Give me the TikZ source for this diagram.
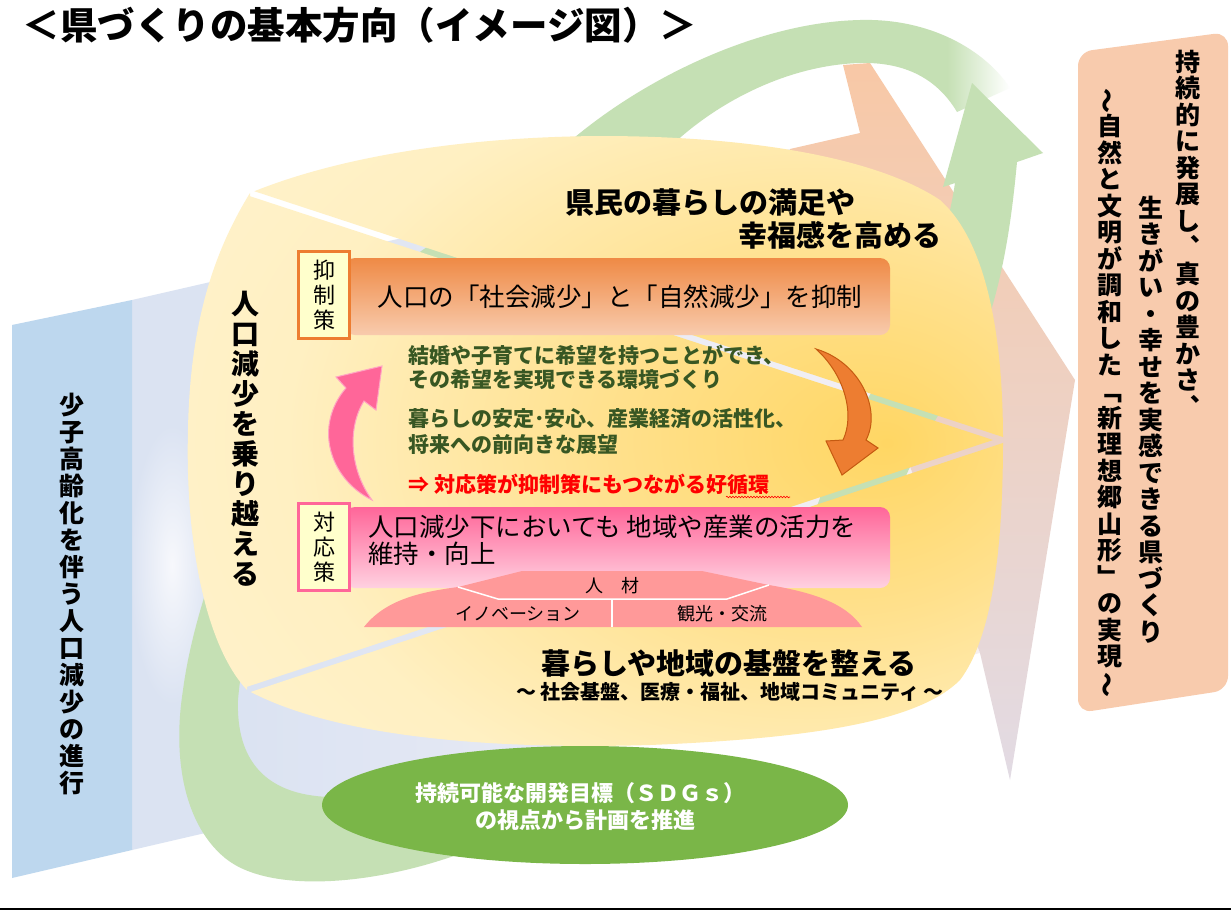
\documentclass[tikz,border=0pt]{standalone}
\usepackage{fontspec}
\setmainfont{Noto Sans CJK JP}
\usepackage{graphicx}
\usepackage{tikz}
\usetikzlibrary{decorations.pathmorphing}

\definecolor{kenblue}{RGB}{189,215,238}
\definecolor{kenpeach}{RGB}{248,203,173}
\definecolor{ribbon}{RGB}{197,224,180}
\definecolor{sdggreen}{RGB}{122,182,72}
\definecolor{suporange}{RGB}{237,125,49}
\definecolor{suporangedk}{RGB}{197,90,17}
\definecolor{taipink}{RGB}{255,102,153}
\definecolor{taipinklt}{RGB}{255,165,195}
\definecolor{labelcream}{RGB}{255,255,204}
\definecolor{domepink}{RGB}{255,153,153}
\definecolor{textgreen}{RGB}{56,87,35}
\definecolor{textred}{RGB}{255,0,0}
\definecolor{shaftgray}{RGB}{219,227,242}
\definecolor{shaftglow}{RGB}{247,248,252}
\definecolor{headtop}{RGB}{248,200,166}
\definecolor{headmid}{RGB}{252,237,228}
\definecolor{headbot}{RGB}{226,219,228}

% shadings
\pgfdeclarehorizontalshading{shaftshade}{100bp}{rgb(0bp)=(0.86,0.89,0.95); rgb(32bp)=(0.86,0.89,0.95); rgb(60bp)=(0.93,0.93,0.96); rgb(75bp)=(0.97,0.94,0.94); rgb(100bp)=(0.97,0.94,0.94)}
\pgfdeclareradialshading{yellowglow}{\pgfpoint{18bp}{0bp}}{rgb(0bp)=(1,0.84,0.39); rgb(14bp)=(1,0.88,0.55); rgb(30bp)=(1,0.94,0.76); rgb(45bp)=(1,0.955,0.82); rgb(80bp)=(1,0.955,0.82)}
\pgfdeclarehorizontalshading{ribbonfade}{100bp}{color(0bp)=(ribbon); color(68bp)=(ribbon); color(75bp)=(white); color(100bp)=(white)}

% vertical text, one character a line
\makeatletter
\newcommand\tate[1]{\vbox{\@tfor\tatechar:=#1\do{\hbox to 1em{\hss\tatechar\hss}}}}
\makeatother
\newcommand\kfont[2]{\fontsize{#1}{#2}\selectfont}
\newcommand\tatenami{\rotatebox[origin=c]{90}{～}}

\begin{document}
\begin{tikzpicture}[x=1pt,y=-1pt,
  tatetext/.style={inner sep=0pt, anchor=north},
  plain/.style={inner sep=0pt},
  labelbox/.style={fill=labelcream, line width=3pt, minimum width=51pt, minimum height=87pt, inner sep=0pt},
  bartext/.style={inner sep=0pt, anchor=west, font=\kfont{25.5}{29}},
  greentext/.style={inner sep=0pt, anchor=west, text=textgreen, font=\kfont{21}{24}\bfseries},
  domelabel/.style={inner sep=0pt, font=\kfont{18}{20}}]
\fill[white] (0,0) rectangle (1231,911);
\useasboundingbox (0,0) rectangle (1231,911);
% Big pale arrow: shaft
\shade[shading=shaftshade] (132,300) -- (790,149) -- (790,300) -- (885,400) -- (980,653) -- (132,850) -- cycle;
\shade[inner color=shaftglow, outer color=shaftgray] (172,565) ellipse [x radius=42, y radius=140];
% Big pale arrow: head
\shade[top color=headtop, middle color=headmid, bottom color=headbot]
  (790,149) -- (860,133) -- (843,65) -- (870,63) -- (1075,380) -- (1010,780) -- (980,653) -- (885,400) -- (790,300) -- cycle;
% Green ribbon: left side and bottom
\fill[ribbon] (470,850) .. controls (380,885) and (270,895) .. (225,858)
  .. controls (185,825) and (172,760) .. (183,690)
  .. controls (200,560) and (300,330) .. (430,245)
  .. controls (480,210) and (530,175) .. (575,140)
  -- (680,140)
  .. controls (600,200) and (530,250) .. (470,300)
  .. controls (330,420) and (250,560) .. (238,700)
  .. controls (236,760) and (265,795) .. (330,797)
  -- (470,800) -- cycle;
% Green ribbon: top arc, fading out
\shade[shading=ribbonfade] (560,150) .. controls (640,78) and (760,22) .. (860,20)
  .. controls (930,18) and (985,50) .. (1010,88) -- (957,112)
  .. controls (935,75) and (900,62) .. (860,63)
  .. controls (790,65) and (720,100) .. (672,145) -- cycle;
% Green ribbon: arrowhead and shaft behind
\fill[ribbon] (972,83) -- (1043,153) -- (1017,162)
  .. controls (1012,215) and (1005,270) .. (985,330)
  .. controls (965,380) and (930,420) .. (905,478)
  .. controls (890,520) and (880,560) .. (870,600)
  -- (790,600)
  .. controls (805,540) and (825,470) .. (860,410)
  .. controls (900,350) and (940,280) .. (955,183)
  -- (943,187) -- cycle;
% Yellow body with the two gaps
\begin{scope}[even odd rule]
\clip (0,0) rectangle (1231,911)
  (250,189.8) -- (1012,440) -- (247,693.2) -- (247,686.8) -- (993,440) -- (250,196.2) -- cycle;
\shade[shading=yellowglow] (250,193) .. controls (330,160) and (450,137) .. (600,136)
  .. controls (760,136) and (880,160) .. (940,200)
  .. controls (985,240) and (1003,330) .. (1003,440)
  .. controls (1003,560) and (990,640) .. (960,680)
  .. controls (920,720) and (820,738) .. (650,745)
  .. controls (480,750) and (330,735) .. (247,690)
  .. controls (205,645) and (185,540) .. (188,430)
  .. controls (190,320) and (215,250) .. (250,193) -- cycle;
\end{scope}
% Left and right boxes
\fill[kenblue] (12,325) -- (132,300) -- (132,850) -- (12,878) -- cycle;
\fill[kenpeach, rounded corners=14] (1078,52) -- (1228,32) -- (1228,690) -- (1078,713) -- cycle;
% SDGs ellipse
\fill[sdggreen] (585,805) ellipse [x radius=263, y radius=59];
% Bars
\shade[top color=suporange!90!white, middle color=kenpeach!85!suporange, bottom color=kenpeach, rounded corners=10]
  (345,258) rectangle (890,335);
\shade[top color=taipink, middle color=taipink!45!white, bottom color=taipink!30!white, rounded corners=10]
  (345,507) rectangle (890,588);
\node[labelbox, draw=suporange] (yokusei) at (324,295) {\kfont{22}{25}\tate{抑制策}};
\node[labelbox, draw=taipink] (taiou) at (324,547) {\kfont{22}{25}\tate{対応策}};
% Dome
\fill[domepink] (364,627) .. controls (385,600) and (420,592) .. (458,587) -- (522,571) -- (702,571)
  -- (769,585) .. controls (810,592) and (845,602) .. (862,627) -- cycle;
\draw[white, line width=1.5pt] (458,587) -- (498,599) -- (727,599) -- (769,585);
\draw[white, line width=1.5pt] (612,599) -- (612,627);
% Curved arrows
\fill[taipink, draw=taipinklt, line width=1pt] (372,500) .. controls (328,478) and (314,425) .. (346,388)
  -- (336,377) -- (382,366) -- (376,410) -- (364,401)
  .. controls (347,428) and (350,470) .. (372,500) -- cycle;
\fill[suporange, draw=suporangedk, line width=1pt] (816,349) .. controls (860,362) and (882,410) .. (866,440)
  -- (878,448) -- (842,475) -- (826,441) -- (843,440)
  .. controls (855,415) and (845,375) .. (816,349) -- cycle;
% Title
\node[plain, font=\kfont{37.5}{40}\bfseries] (title) at (360,25) {＜県づくりの基本方向（イメージ図）＞};
% Texts on the yellow body
\node[plain, font=\kfont{29}{32}\bfseries] (manzoku) at (710,203) {県民の暮らしの満足や};
\node[plain, font=\kfont{29}{32}\bfseries] (kofuku) at (840,235) {幸福感を高める};
\node[plain, font=\kfont{25.5}{29}] (suptext) at (620,297) {人口の「社会減少」と「自然減少」を抑制};
\node[greentext] (kibo1) at (408,355) {結婚や子育てに希望を持つことができ、};
\node[greentext] (kibo2) at (408,380) {その希望を実現できる環境づくり};
\node[greentext] (antei1) at (408,419) {暮らしの安定･安心、産業経済の活性化、};
\node[greentext] (antei2) at (408,445) {将来への前向きな展望};
\node[greentext, text=textred] (junkan) at (408,484) {⇒ 対応策が抑制策にもつながる好循環};
\draw[textred, line width=0.6pt, decorate, decoration={snake, amplitude=0.8pt, segment length=3pt}]
  (726,497) -- (790,497);
\node[bartext] (taitext1) at (368,527) {人口減少下においても 地域や産業の活力を};
\node[bartext] (taitext2) at (368,554) {維持・向上};
\node[domelabel] (jinzai) at (612,586) {人　材};
\node[domelabel] (innov) at (518,614) {イノベーション};
\node[domelabel] (kanko) at (722,614) {観光・交流};
\node[plain, font=\kfont{29}{32}\bfseries] (kiban) at (729,663) {暮らしや地域の基盤を整える};
\node[plain, font=\kfont{20}{22}\bfseries] (kibansub) at (730,692) {～ 社会基盤、医療・福祉、地域コミュニティ ～};
\node[tatetext, font=\kfont{28}{30}\bfseries] (norikoe) at (245,291) {\tate{人口減少を乗り越える}};
% Left box text
\node[tatetext, font=\kfont{25}{27}\bfseries] (shoshi) at (72,392.5) {\tate{少子高齢化を伴う人口減少の進行}};
% Right box text
\node[tatetext, font=\kfont{25}{26.5}\bfseries] (goal1a) at (1188,49.5) {\tate{持続的に発展し︑}};
\node[tatetext, font=\kfont{25}{26.5}\bfseries] (goal1b) at (1188,262) {\tate{真の豊かさ︑}};
\node[tatetext, font=\kfont{25}{26.5}\bfseries] (goal2) at (1151,195.5) {\tate{生きがい・幸せを実感できる県づくり}};
\node[tatetext, font=\kfont{25}{26.5}\bfseries] (goal3) at (1110,88) {\tate{\tatenami 自然と文明が調和した﹁新理想郷山形﹂の実現\tatenami}};
% SDGs text
\node[plain, text=white, font=\kfont{22}{24}\bfseries] (sdg1) at (580,793) {持続可能な開発目標（ＳＤＧｓ）};
\node[plain, text=white, font=\kfont{22}{24}\bfseries] (sdg2) at (585,820) {の視点から計画を推進};
% Bottom rule
\draw[line width=2pt] (0,909) -- (1231,909);
\end{tikzpicture}
\end{document}
